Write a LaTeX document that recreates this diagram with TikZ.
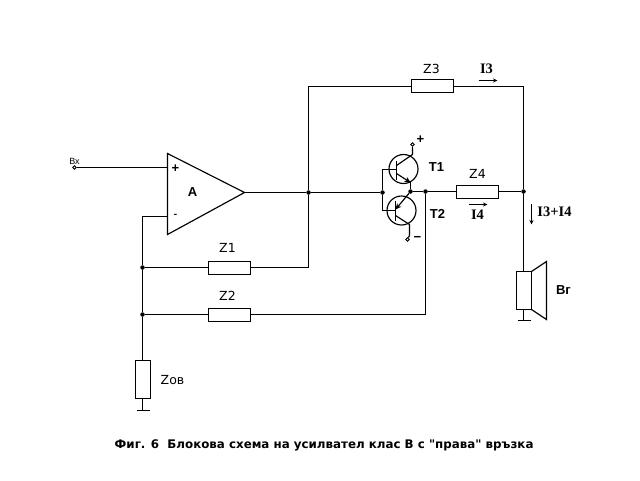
\documentclass[tikz,border=0pt]{standalone}
\usepackage{fontspec}
\setmainfont{Liberation Sans}
\newfontfamily\serifcur{Liberation Serif}
\newfontfamily\widecur{DejaVu Sans}
\usetikzlibrary{arrows.meta}
\tikzset{
  x=1pt,y=-1pt,
  wire/.style={draw=black,line width=1.15pt},
  res/.style={draw=black,line width=1pt,fill=white,rectangle,inner sep=0pt,minimum width=#1},
  dot/.style={circle,fill=black,inner sep=0pt,minimum size=4.5pt},
  term/.style={circle,draw=black,line width=.8pt,fill=white,inner sep=0pt,minimum size=3.5pt},
  lbl/.style={inner sep=0pt,font=\fontsize{12.5}{14}\selectfont\widecur},
  blbl/.style={inner sep=0pt,font=\fontsize{13}{14}\selectfont\bfseries},
  ilbl/.style={inner sep=0pt,font=\fontsize{14.5}{15}\selectfont\serifcur\bfseries},
  curr/.style={draw=black,line width=1pt,-{Stealth[length=4.5pt,width=4pt]}},
}
\begin{document}
\begin{tikzpicture}
\useasboundingbox (0,0) rectangle (640,480);
\fill[white] (0,0) rectangle (640,480);
\begin{scope}[shift={(0.5,0.5)}]
% coordinates and junctions
\coordinate (oppA) at (167,153);
\coordinate (oppB) at (167,234);
\coordinate (oppO) at (244,192);
\coordinate (oppP) at (167,167);
\coordinate (oppM) at (167,216);
\node[term] (bx) at (74,167) {};
\node[dot] (j1) at (308,192) {};
\node[dot] (j2) at (382,192) {};
\node[dot] (j3) at (410,191) {};
\node[dot] (j4) at (425,191) {};
\node[dot] (j5) at (523,191) {};
\node[dot] (j6) at (142,267) {};
\node[dot] (j7) at (142,314) {};
\coordinate (mc) at (142,216);
\coordinate (c1) at (308,86);
\coordinate (c2) at (523,86);
\coordinate (c3) at (308,267);
\coordinate (c4) at (425,314);
% resistors
\node[res=42pt,minimum height=13pt] (z3) at (432,85.5) {};
\node[res=42pt,minimum height=13pt] (z4) at (477,191.5) {};
\node[res=42pt,minimum height=13pt] (z1) at (229,267.5) {};
\node[res=42pt,minimum height=13pt] (z2) at (229,314.5) {};
\node[res=15pt,minimum height=38pt] (zov) at (142.5,379) {};
\node[res=15pt,minimum height=38pt] (spk) at (523.5,290) {};
% wires
\draw[wire] (bx) -- (oppP);
\draw[wire] (oppA) -- (oppB) -- (oppO) -- cycle;
\draw[wire] (oppM) -- (mc) -- (j6) -- (j7) -- (zov.north -| j7);
\draw[wire] (oppO) -- (j1) -- (j2);
\draw[wire] (j1) -- (c1) -- (z3.west |- c1);
\draw[wire] (z3.east |- c2) -- (c2) -- (j5) -- (spk.north -| j5);
\draw[wire] (j1) -- (c3) -- (z1.east |- c3);
\draw[wire] (j6) -- (z1.west |- j6);
\draw[wire] (j7) -- (z2.west |- j7);
\draw[wire] (z2.east |- c4) -- (c4) -- (j4);
\draw[wire] (j3) -- (j4) -- (z4.west |- j4);
\draw[wire] (z4.east |- j5) -- (j5);
% grounds
\coordinate (g1) at (142,410);
\coordinate (g2) at (523,320);
\draw[wire] (zov.south -| g1) -- (g1);
\draw[wire] (136,410) -- (149,410);
\draw[wire] (spk.south -| g2) -- (g2);
\draw[wire] (517,320) -- (530,320);
% speaker cone
\draw[wire] (531,271) -- (546,261) -- (546,319) -- (531,309);
% T1
\node[circle,draw=black,line width=1.15pt,minimum size=29pt,inner sep=0pt] (t1) at (403,168.5) {};
\coordinate (t1b) at (396,169);
\draw[wire,line width=1.6pt] (396,160) -- (396,179);
\draw[wire] (j2) -- (382,169) -- (t1b);
\draw[wire] (396,165) -- (412,154) -- (412,147);
\node[term] (t1c) at (412,144) {};
\draw[wire] (412,147) -- (t1c);
\draw[wire,-{Stealth[length=6pt,width=5.5pt]}] (396,173) -- (410,182);
\draw[wire] (410,181) -- (j3);
% T2
\node[circle,draw=black,line width=1.15pt,minimum size=29pt,inner sep=0pt] (t2) at (401,210) {};
\coordinate (t2b) at (395,210);
\draw[wire,line width=1.6pt] (395,200) -- (395,220);
\draw[wire] (j2) -- (382,210) -- (t2b);
\draw[wire,-{Stealth[length=6pt,width=5.5pt]}] (j3) -- (395,209);
\draw[wire] (395,215) -- (409,224) -- (409,235);
\node[term] (t2c) at (407,239) {};
\draw[wire] (409,235) -- (t2c);
% current arrows
\draw[curr] (478,80) -- (497,80);
\draw[curr] (468,204) -- (487,204);
\draw[curr] (531,203) -- (531,224);
% labels
\node[blbl] (plus) at (175,168) {+};
\node[lbl,font=\fontsize{10}{11}\selectfont\bfseries] (minus) at (175,215) {-};
\node[blbl] (a) at (192,192) {A};
\node[lbl,font=\fontsize{9}{10}\selectfont] (bxl) at (74,161) {Вх};
\node[lbl] (lz3) at (431,68) {Z3};
\node[lbl] (lz4) at (477,173) {Z4};
\node[lbl] (lz1) at (227,247) {Z1};
\node[lbl] (lz2) at (227,295) {Z2};
\node[lbl,font=\fontsize{12.5}{13}\selectfont\widecur] (lzov) at (172,380) {Zов};
\node[lbl,font=\fontsize{13}{14}\selectfont\bfseries] (lbg) at (563,290) {Вг};
\node[blbl] (lt1) at (436,167) {T1};
\node[blbl] (lt2) at (437,213) {T2};
\node[ilbl] (li3) at (486,68) {I3};
\node[ilbl] (li4) at (477,214) {I4};
\node[ilbl] (li34) at (554,211) {I3+I4};
\node[blbl] (tp) at (420,139) {+};
\node[blbl] (tm) at (417,238) {\textminus};
\node[inner sep=0pt,font=\fontsize{11.85}{13}\selectfont\widecur\bfseries,anchor=west] (title) at (114,444.5) {Фиг. 6\ \ Блокова схема на усилвател клас В с "права" връзка};
\end{scope}
\end{tikzpicture}
\end{document}
